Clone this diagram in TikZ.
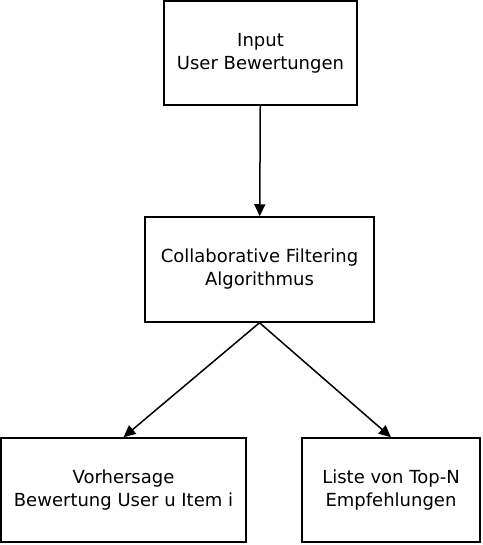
\documentclass[tikz,border=0pt]{standalone}
\usepackage{fontspec}
\setmainfont{DejaVu Sans}
\usepackage{tikz}
\usetikzlibrary{arrows.meta}

\begin{document}
\begin{tikzpicture}[x=1pt,y=-1pt,
	box/.style={draw, line width=1.5pt, align=center, inner sep=0pt,
		font=\fontsize{18}{23}\selectfont},
	>={Triangle[length=12pt,width=11pt]}]
\useasboundingbox (0,0) rectangle (482,545);
\node[box, minimum width=193pt, minimum height=104pt] (input) at (260.5,53) {Input\\User Bewertungen};
\node[box, minimum width=229pt, minimum height=105pt] (cf) at (259.5,269.5) {Collaborative Filtering\\Algorithmus};
\node[box, minimum width=245pt, minimum height=104pt] (pred) at (123.5,490) {Vorhersage\\Bewertung User u Item i};
\node[box, minimum width=178pt, minimum height=104pt] (topn) at (391,490) {Liste von Top-N\\Empfehlungen};
\path[->, line width=1.5pt]
(input) edge (cf)
(cf.south) edge (pred.north)
edge (topn.north);
\end{tikzpicture}
\end{document}
